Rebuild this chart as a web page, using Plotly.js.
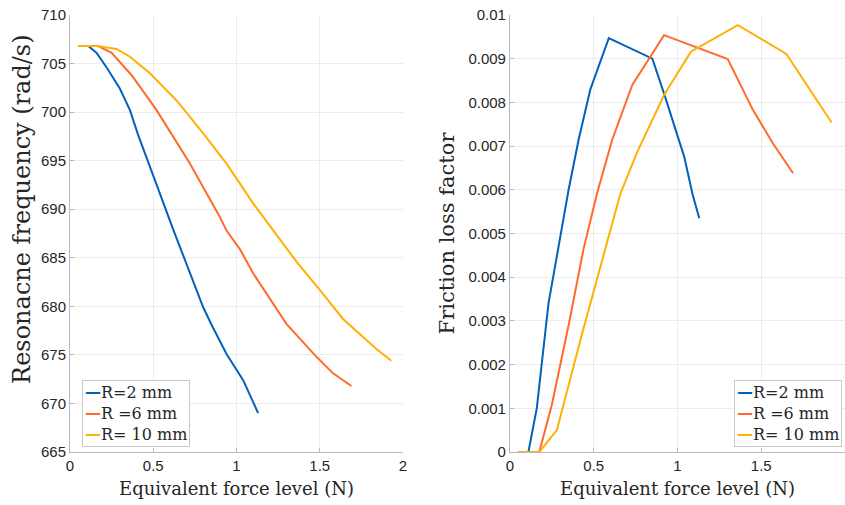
<!DOCTYPE html>
<html>
<head>
<meta charset="utf-8">
<script src="https://cdn.plot.ly/plotly-3.0.1.min.js"></script>
<style>html,body{margin:0;padding:0;background:#fff;overflow:hidden;}#chart{width:845px;height:505px;}</style>
</head>
<body>
<div id="chart"></div>
<script>
// ---- Data ----
const seriesNames = ["R=2 mm", "R =6 mm", "R= 10 mm"];
const seriesColors = ["#0062BD", "#FF6B2B", "#FFB000"];

// Left panel: resonance frequency (rad/s) vs equivalent force level (N)
const freqX_R2 = [0.05, 0.11, 0.16, 0.22, 0.30, 0.36, 0.41, 0.47, 0.54, 0.62, 0.72, 0.80, 0.85, 0.94, 1.04, 1.13];
const freqY_R2 = [706.8, 706.8, 706.1, 704.6, 702.4, 700.2, 697.6, 694.9, 691.6, 687.9, 683.5, 679.9, 678.1, 675.1, 672.4, 669.0];
const freqX_R6 = [0.05, 0.17, 0.25, 0.37, 0.52, 0.63, 0.72, 0.90, 0.94, 1.02, 1.10, 1.30, 1.48, 1.58, 1.69];
const freqY_R6 = [706.8, 706.8, 706.1, 703.8, 700.2, 697.1, 694.7, 689.2, 687.8, 685.9, 683.4, 678.2, 674.8, 673.1, 671.8];
const freqX_R10 = [0.05, 0.16, 0.28, 0.36, 0.48, 0.64, 0.80, 0.94, 1.10, 1.22, 1.36, 1.50, 1.64, 1.84, 1.93];
const freqY_R10 = [706.8, 706.8, 706.5, 705.7, 704.0, 701.2, 697.8, 694.7, 690.6, 687.8, 684.6, 681.7, 678.7, 675.6, 674.4];

// Right panel: friction loss factor vs equivalent force level (N)
const lossX_R2 = [0.05, 0.11, 0.16, 0.23, 0.29, 0.35, 0.41, 0.48, 0.59, 0.85, 0.92, 1.04, 1.09, 1.13];
const lossY_R2 = [0, 0, 0.00100, 0.00340, 0.00470, 0.00600, 0.00715, 0.00830, 0.00947, 0.00900, 0.00820, 0.00676, 0.00590, 0.00535];
const lossX_R6 = [0.05, 0.175, 0.25, 0.35, 0.44, 0.52, 0.61, 0.73, 0.92, 1.30, 1.45, 1.57, 1.69];
const lossY_R6 = [0, 0, 0.00108, 0.00290, 0.00466, 0.00592, 0.00714, 0.00840, 0.00954, 0.00899, 0.00783, 0.00706, 0.00638];
const lossX_R10 = [0.05, 0.175, 0.28, 0.43, 0.57, 0.66, 0.76, 0.92, 1.08, 1.36, 1.65, 1.92];
const lossY_R10 = [0, 0, 0.00050, 0.00270, 0.00466, 0.00592, 0.00687, 0.00817, 0.00916, 0.00977, 0.00911, 0.00754];

const xTickVals = [0, 0.5, 1, 1.5, 2];
const xTickText = ["0", "0.5", "1", "1.5", "2"];

// ---- Build ----
const leftX = [freqX_R2, freqX_R6, freqX_R10];
const leftY = [freqY_R2, freqY_R6, freqY_R10];
const rightX = [lossX_R2, lossX_R6, lossX_R10];
const rightY = [lossY_R2, lossY_R6, lossY_R10];

const traces = [];
for (let i = 0; i < 3; i++) {
  traces.push({x: leftX[i], y: leftY[i], type: 'scatter', mode: 'lines', name: seriesNames[i],
    line: {color: seriesColors[i], width: 2}, xaxis: 'x', yaxis: 'y', showlegend: false});
}
for (let i = 0; i < 3; i++) {
  traces.push({x: rightX[i], y: rightY[i], type: 'scatter', mode: 'lines', name: seriesNames[i],
    line: {color: seriesColors[i], width: 2}, xaxis: 'x2', yaxis: 'y2', showlegend: false});
}

const serif = 'DejaVu Serif, Liberation Serif, serif';
const tickFont = {family: 'Liberation Sans, Arial, sans-serif', size: 15, color: '#262626'};
const xTitleFont = {family: serif, size: 18, color: '#262626'};
const legFont = {family: serif, size: 16, color: '#262626'};

const axBase = {
  showgrid: true, gridcolor: '#ececec', gridwidth: 1,
  showline: true, linecolor: '#b8b8b8', linewidth: 1,
  ticks: 'inside', ticklen: 4, tickcolor: '#b8b8b8',
  zeroline: false, tickfont: tickFont, automargin: false
};

// Legend boxes drawn as text annotations built from the series arrays
const legendText = seriesNames.map((n, i) =>
  '<span style="color:' + seriesColors[i] + '"><b>—</b></span>' + n).join('<br>');
const legBase = {
  text: legendText, showarrow: false, align: 'left', font: legFont,
  bgcolor: '#ffffff', bordercolor: '#c8c8c8', borderwidth: 1, borderpad: 2,
  xref: 'paper', yref: 'paper', yanchor: 'bottom', xanchor: 'left'
};

const layout = {
  width: 845, height: 505,
  margin: {l: 70, r: 0, t: 15, b: 53},
  paper_bgcolor: '#ffffff', plot_bgcolor: '#ffffff',
  showlegend: false,
  xaxis: Object.assign({}, axBase, {domain: [0, 0.4297], range: [0, 2], tickvals: xTickVals, ticktext: xTickText,
    title: {text: 'Equivalent force level (N)', font: xTitleFont, standoff: 9}}),
  yaxis: Object.assign({}, axBase, {domain: [0, 1], range: [665, 710], dtick: 5, tick0: 665}),
  xaxis2: Object.assign({}, axBase, {domain: [0.5677, 1], range: [0, 2], tickvals: xTickVals, ticktext: xTickText, anchor: 'y2',
    title: {text: 'Equivalent force level (N)', font: xTitleFont, standoff: 9}}),
  yaxis2: Object.assign({}, axBase, {domain: [0, 1], range: [0, 0.01], dtick: 0.001, tick0: 0, anchor: 'x2',
    title: {text: 'Friction loss factor', font: {family: serif, size: 21, color: '#262626'}, standoff: 8}}),
  annotations: [
    Object.assign({}, legBase, {x: 0.0155, y: 0.0114}),
    Object.assign({}, legBase, {x: 0.857, y: 0.0114}),
    {text: 'Resonacne frequency (rad/s)', showarrow: false, textangle: -90,
     font: {family: serif, size: 24, color: '#262626'},
     xref: 'paper', yref: 'paper', x: -0.0619, y: 0.554, xanchor: 'center', yanchor: 'middle'}
  ]
};

Plotly.newPlot('chart', traces, layout, {displayModeBar: false, staticPlot: true});
</script>
</body>
</html>
